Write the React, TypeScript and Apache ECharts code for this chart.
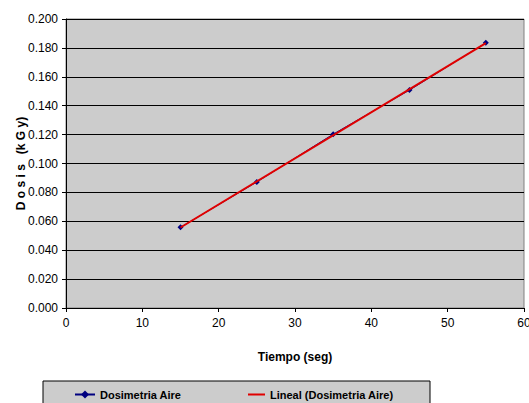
import React, { useEffect, useRef } from "react";
import * as echarts from "echarts";

const tiempo = [15, 25, 35, 45, 55];
const dosis = [0.0558, 0.0872, 0.1203, 0.1508, 0.1835];
const seriesName = "Dosimetria Aire";
const trendName = "Lineal (Dosimetria Aire)";

function linearFit(xs: number[], ys: number[]) {
  const n = xs.length;
  const mx = xs.reduce((a, b) => a + b, 0) / n;
  const my = ys.reduce((a, b) => a + b, 0) / n;
  let sxy = 0, sxx = 0;
  for (let i = 0; i < n; i++) {
    sxy += (xs[i] - mx) * (ys[i] - my);
    sxx += (xs[i] - mx) * (xs[i] - mx);
  }
  const m = sxy / sxx;
  const b = my - m * mx;
  return (x: number) => m * x + b;
}

export default function App() {
  const ref = useRef<HTMLDivElement>(null);
  useEffect(() => {
    if (!ref.current) return;
    const chart = echarts.init(ref.current, null, { renderer: "svg" });
    const fit = linearFit(tiempo, dosis);
    const x0 = tiempo[0];
    const x1 = tiempo[tiempo.length - 1];
    const font = "Arial, 'Liberation Sans', sans-serif";
    chart.setOption({
      animation: false,
      backgroundColor: "#ffffff",
      textStyle: { fontFamily: font },
      grid: {
        left: 66,
        top: 19,
        right: 5,
        bottom: 95,
        outerBoundsMode: "none",
        containLabel: false,
        show: true,
        backgroundColor: "#cccccc",
        borderColor: "#808080",
        borderWidth: 1,
      },
      graphic: [
        {
          type: "rect",
          shape: { x: 43, y: 381, width: 387, height: 40 },
          style: { fill: "#cccccc", stroke: "#000000", lineWidth: 1 },
          z: 0,
        },
      ],
      legend: [
        {
          data: [seriesName],
          left: 74,
          top: 389,
          padding: 0,
          itemWidth: 20,
          itemHeight: 10,
          itemGap: 0,
          textStyle: { fontFamily: font, fontWeight: "bold", fontSize: 11, color: "#000" },
        },
        {
          data: [{ name: trendName, icon: "rect" }],
          left: 248,
          top: 389,
          padding: 0,
          itemWidth: 17,
          itemHeight: 2,
          itemGap: 0,
          textStyle: { fontFamily: font, fontWeight: "bold", fontSize: 11, color: "#000" },
        },
      ],
      xAxis: {
        type: "value",
        min: 0,
        max: 60,
        interval: 10,
        name: "Tiempo (seg)",
        nameLocation: "middle",
        nameGap: 43,
        nameTextStyle: { fontFamily: font, fontWeight: "bold", fontSize: 12, color: "#000" },
        axisLine: { show: true, lineStyle: { color: "#000", width: 1 } },
        axisTick: { show: true, length: 4, lineStyle: { color: "#000" } },
        axisLabel: { fontFamily: font, fontSize: 12, color: "#000", margin: 9 },
        splitLine: { show: false },
      },
      yAxis: {
        type: "value",
        min: 0,
        max: 0.2,
        interval: 0.02,
        name: "D o s i s   (k G y)",
        nameLocation: "middle",
        nameGap: 39,
        nameMoveOverlap: false,
        nameTextStyle: { fontFamily: font, fontWeight: "bold", fontSize: 12, color: "#000" },
        axisLine: { show: true, lineStyle: { color: "#000", width: 1 } },
        axisTick: { show: true, length: 4, lineStyle: { color: "#000" } },
        axisLabel: {
          fontFamily: font,
          fontSize: 12,
          color: "#000",
          margin: 8,
          formatter: (v: number) => v.toFixed(3),
        },
        splitLine: { show: true, lineStyle: { color: "#000", width: 1 } },
      },
      series: [
        {
          name: seriesName,
          type: "line",
          data: tiempo.map((t, i) => [t, dosis[i]]),
          symbol: "diamond",
          symbolSize: 6,
          itemStyle: { color: "#000080" },
          lineStyle: { color: "#000080", width: 1 },
          z: 2,
        },
        {
          name: trendName,
          type: "line",
          data: [
            [x0, fit(x0)],
            [x1, fit(x1)],
          ],
          symbol: "none",
          lineStyle: { color: "#e00000", width: 2 },
          itemStyle: { color: "#e00000" },
          z: 3,
        },
      ],
    });
    return () => chart.dispose();
  }, []);
  return (
    <div
      ref={ref}
      style={{ position: "fixed", left: 0, top: 0, width: 529, height: 403 }}
    />
  );
}
